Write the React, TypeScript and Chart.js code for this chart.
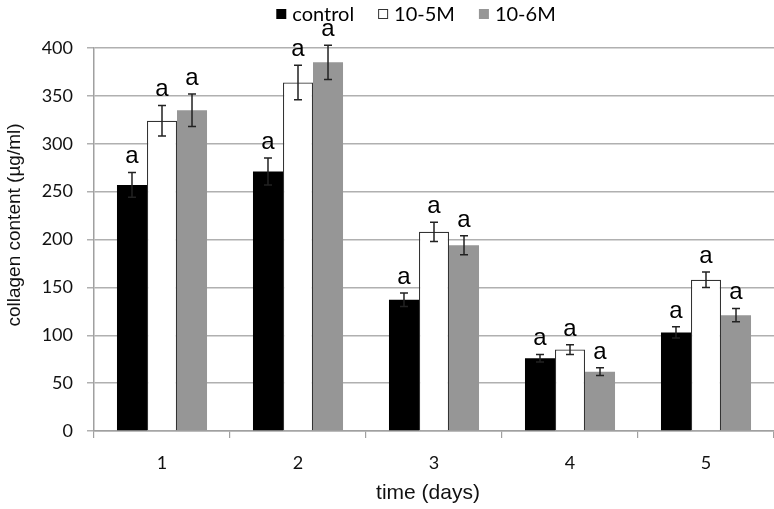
import React, { useEffect, useRef } from "react";
import { Chart, registerables } from "chart.js";

Chart.register(...registerables);

const categories = ["1", "2", "3", "4", "5"];
const seriesNames = ["control", "10-5M", "10-6M"];
const controlValues = [257, 271, 137, 76, 103];
const m5Values = [324, 364, 208, 85, 158];
const m6Values = [335, 385, 194, 62, 121];
const controlErrors = [13, 14, 7, 4, 6];
const m5Errors = [16, 18, 10, 5, 8];
const m6Errors = [17, 18, 10, 4, 7];
const controlLetters = ["a", "a", "a", "a", "a"];
const m5Letters = ["a", "a", "a", "a", "a"];
const m6Letters = ["a", "a", "a", "a", "a"];
const yTicks = [0, 50, 100, 150, 200, 250, 300, 350, 400];

const errorSets = [controlErrors, m5Errors, m6Errors];
const letterSets = [controlLetters, m5Letters, m6Letters];

const TICK_FONT = "Lato, 'Open Sans', sans-serif";
const ARIAL = "'Liberation Sans', Arial, sans-serif";

const overlay = {
  id: "overlay",
  afterDatasetsDraw(chart: any) {
    const ctx = chart.ctx;
    const yScale = chart.scales.y;
    ctx.save();
    chart.data.datasets.forEach((ds: any, i: number) => {
      const meta = chart.getDatasetMeta(i);
      const errs = errorSets[i];
      meta.data.forEach((bar: any, j: number) => {
        const v = ds.data[j];
        const x = bar.x;
        const yT = yScale.getPixelForValue(v + errs[j]);
        const yB = yScale.getPixelForValue(v - errs[j]);
        ctx.strokeStyle = "#222";
        ctx.lineWidth = 1.5;
        ctx.beginPath();
        ctx.moveTo(x, yT);
        ctx.lineTo(x, yB);
        ctx.moveTo(x - 4, yT);
        ctx.lineTo(x + 4, yT);
        ctx.moveTo(x - 4, yB);
        ctx.lineTo(x + 4, yB);
        ctx.stroke();
        ctx.fillStyle = "#000";
        ctx.font = `24px ${ARIAL}`;
        ctx.textAlign = "center";
        ctx.textBaseline = "alphabetic";
        ctx.fillText(letterSets[i][j], x, yT - 9);
      });
    });
    ctx.restore();
  },
  afterDraw(chart: any) {
    const ctx = chart.ctx;
    const area = chart.chartArea;
    ctx.save();
    // legend
    ctx.font = `20px ${TICK_FONT}`;
    const box = 10;
    const gap = 6;
    const spacing = 24;
    const widths = seriesNames.map((n) => ctx.measureText(n).width);
    const total =
      widths.reduce((a, b) => a + b, 0) + seriesNames.length * (box + gap) + spacing * (seriesNames.length - 1);
    let x = 416 - total / 2;
    const cy = 14;
    const fills = ["#000000", "#ffffff", "#969696"];
    seriesNames.forEach((n, i) => {
      ctx.fillStyle = fills[i];
      ctx.fillRect(x, cy - box / 2, box, box);
      if (i === 1) {
        ctx.strokeStyle = "#333";
        ctx.lineWidth = 1;
        ctx.strokeRect(x + 0.5, cy - box / 2 + 0.5, box - 1, box - 1);
      }
      ctx.fillStyle = "#000";
      ctx.textAlign = "left";
      ctx.textBaseline = "middle";
      ctx.fillText(n, x + box + gap, cy + 1);
      x += box + gap + widths[i] + spacing;
    });
    // axis titles
    ctx.fillStyle = "#111";
    ctx.font = `21px ${ARIAL}`;
    ctx.textAlign = "center";
    ctx.textBaseline = "middle";
    ctx.fillText("time (days)", (area.left + area.right) / 2 - 6, 493);
    ctx.save();
    ctx.translate(15, 225);
    ctx.rotate(-Math.PI / 2);
    ctx.font = `19px ${ARIAL}`;
    ctx.fillText("collagen content (µg/ml)", 0, 0);
    ctx.restore();
    ctx.restore();
  },
};

export default function App() {
  const ref = useRef<HTMLCanvasElement | null>(null);
  useEffect(() => {
    if (!ref.current) return;
    const chart = new Chart(ref.current, {
      type: "bar",
      data: {
        labels: categories,
        datasets: [
          {
            label: seriesNames[0],
            data: controlValues,
            backgroundColor: "#000000",
            borderColor: "#000000",
            borderWidth: 0,
          },
          {
            label: seriesNames[1],
            data: m5Values,
            backgroundColor: "#ffffff",
            borderColor: "#333333",
            borderWidth: 1.2,
          },
          {
            label: seriesNames[2],
            data: m6Values,
            backgroundColor: "#969696",
            borderColor: "#969696",
            borderWidth: 0,
          },
        ],
      },
      options: {
        animation: false,
        responsive: false,
        maintainAspectRatio: false,
        layout: { padding: { top: 48, left: 0, right: 0, bottom: 0 } },
        datasets: { bar: { barPercentage: 1, categoryPercentage: 0.662 } },
        plugins: { legend: { display: false }, tooltip: { enabled: false } },
        scales: {
          x: {
            afterFit(scale: any) {
              scale.height = 78;
            },
            grid: {
              display: true,
              drawOnChartArea: false,
              drawTicks: true,
              tickLength: 7,
              color: "#a0a0a0",
              lineWidth: 1.2,
            },
            border: { display: true, color: "#a0a0a0", width: 1.5 },
            ticks: {
              color: "#111",
              font: { family: TICK_FONT, size: 18 },
              padding: 14,
            },
          },
          y: {
            min: 0,
            max: 400,
            afterFit(scale: any) {
              scale.width = 94;
            },
            afterBuildTicks(scale: any) {
              scale.ticks = yTicks.map((v) => ({ value: v }));
            },
            grid: {
              color: "#b0b0b0",
              lineWidth: 1.5,
              tickLength: 7,
            },
            border: { display: true, color: "#a0a0a0", width: 1.5 },
            ticks: {
              color: "#111",
              font: { family: TICK_FONT, size: 18 },
              padding: 14,
            },
          },
        },
      },
      plugins: [overlay],
    });
    return () => chart.destroy();
  }, []);
  return (
    <div style={{ position: "fixed", left: 0, top: 0, width: 774, height: 509, background: "#fff" }}>
      <canvas ref={ref} width={774} height={509} style={{ width: 774, height: 509 }} />
    </div>
  );
}
